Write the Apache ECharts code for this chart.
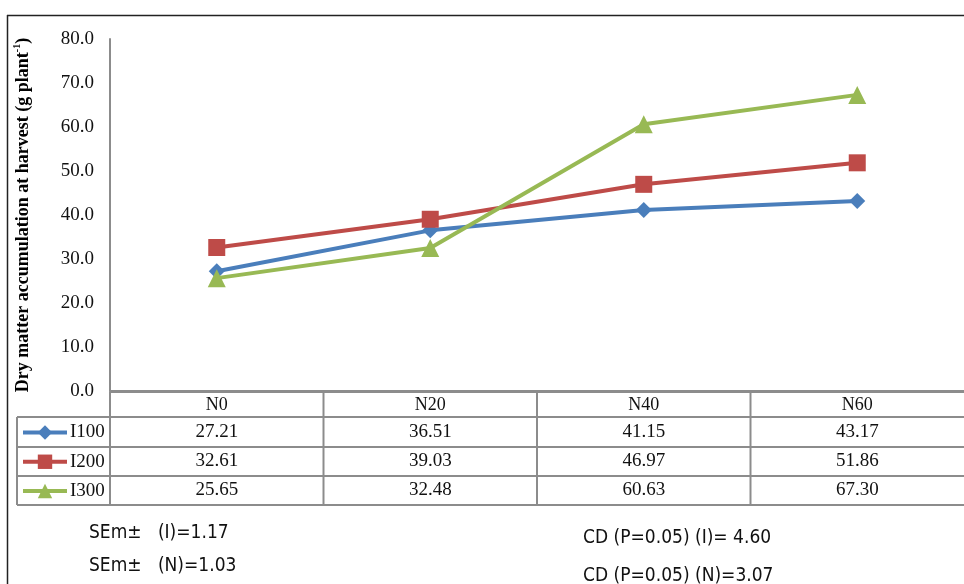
<!DOCTYPE html>
<html>
<head>
<meta charset="utf-8">
<script src="https://cdn.jsdelivr.net/npm/echarts@6/dist/echarts.min.js"></script>
<style>
  html, body { margin: 0; padding: 0; background: #fff; }
  #chart { width: 964px; height: 584px; }
</style>
</head>
<body>
<div id="chart"></div>
<script>
// Nitrogen levels (categories) and irrigation treatments (series)
const categories = ['N0', 'N20', 'N40', 'N60'];
const seriesNames = ['I100', 'I200', 'I300'];
const i100 = [27.21, 36.51, 41.15, 43.17];
const i200 = [32.61, 39.03, 46.97, 51.86];
const i300 = [25.65, 32.48, 60.63, 67.30];
const yTicks = { min: 0, max: 80, interval: 10 };
const statsLeft = ['SEm\u00B1   (I)=1.17', 'SEm\u00B1   (N)=1.03'];
const statsRight = ['CD (P=0.05) (I)= 4.60', 'CD (P=0.05) (N)=3.07'];

const seriesValues = [i100, i200, i300];
const colors = ['#4A7EBB', '#BE4B48', '#98B954'];
const symbols = ['diamond', 'rect', 'triangle'];
const symbolSizes = [16, 17, 18];
const serif = '"Liberation Serif", "Times New Roman", serif';
const narrow = '"Liberation Sans Narrow", "DejaVu Sans Condensed", sans-serif';
const gridColor = '#8C8C8C';

const chart = echarts.init(document.getElementById('chart'));

chart.setOption({
  animation: false,
  backgroundColor: '#fff',
  grid: { left: 110, top: 39, width: 860, height: 352, containLabel: false },
  xAxis: {
    type: 'category',
    data: categories,
    boundaryGap: true,
    axisLine: { show: true, lineStyle: { color: gridColor, width: 2 } },
    axisTick: { show: false },
    axisLabel: { fontFamily: serif, fontSize: 18, color: '#111', margin: 5 },
    splitLine: { show: false }
  },
  yAxis: {
    type: 'value',
    min: yTicks.min,
    max: yTicks.max,
    interval: yTicks.interval,
    name: '{t|Dry matter accumulation at harvest (g plant}{s|-1}{t|)}',
    nameLocation: 'middle',
    nameRotate: 90,
    nameGap: 76,
    nameTextStyle: {
      rich: {
        t: { fontFamily: serif, fontSize: 18, fontWeight: 'bold', color: '#000', lineHeight: 22 },
        s: { fontFamily: serif, fontSize: 10, fontWeight: 'bold', color: '#000', lineHeight: 22, verticalAlign: 'top', padding: [0, 0, 8, 0] }
      }
    },
    axisLine: { show: true, lineStyle: { color: gridColor, width: 2 } },
    axisTick: { show: false },
    splitLine: { show: false },
    axisLabel: {
      fontFamily: serif, fontSize: 19, color: '#111', margin: 16,
      formatter: v => v.toFixed(1)
    }
  },
  legend: {
    orient: 'vertical',
    left: 16,
    top: 418,
    itemWidth: 44,
    itemHeight: 18,
    itemGap: 10.25,
    data: seriesNames,
    lineStyle: { width: 4 },
    textStyle: { fontFamily: serif, fontSize: 19, color: '#111', padding: [0, 0, 0, -2] }
  },
  series: seriesNames.map((name, i) => ({
    name: name,
    type: 'line',
    data: seriesValues[i],
    symbol: symbols[i],
    symbolSize: symbolSizes[i],
    showAllSymbol: true,
    lineStyle: { color: colors[i], width: 4 },
    itemStyle: { color: colors[i] },
    z: 3 + i
  }))
});

// Data table beneath the plot, aligned to the category axis
function drawTable() {
  const xs = categories.map(c => chart.convertToPixel({ xAxisIndex: 0 }, c));
  const band = xs[1] - xs[0];
  const bounds = [xs[0] - band / 2].concat(xs.map(x => x + band / 2));
  const tableLeft = 17;
  const rowLines = [392, 417, 447, 476, 505];
  const rowCenters = [432, 461.5, 490.5];
  const right = 964;
  const els = [];
  const line = (x1, y1, x2, y2, color, w) => ({
    type: 'line', silent: true,
    shape: { x1, y1, x2, y2 },
    style: { stroke: color, lineWidth: w }
  });
  // horizontal rules
  els.push(line(bounds[0], rowLines[0], right, rowLines[0], gridColor, 2));
  for (let k = 1; k < rowLines.length; k++) {
    els.push(line(tableLeft, rowLines[k], right, rowLines[k], gridColor, 2));
  }
  // vertical rules
  els.push(line(tableLeft, rowLines[1], tableLeft, rowLines[4], gridColor, 2));
  els.push(line(bounds[0], rowLines[0], bounds[0], rowLines[4], gridColor, 2));
  for (let k = 1; k < bounds.length - 1; k++) {
    els.push(line(bounds[k], rowLines[0], bounds[k], rowLines[4], gridColor, 2));
  }
  // cell values
  seriesValues.forEach((vals, r) => {
    vals.forEach((v, c) => {
      els.push({
        type: 'text', silent: true,
        x: xs[c], y: rowCenters[r],
        style: {
          text: v.toFixed(2), fontFamily: serif, fontSize: 19, fill: '#111',
          align: 'center', verticalAlign: 'middle'
        }
      });
    });
  });
  // statistics notes
  statsLeft.forEach((t, k) => {
    els.push({
      type: 'text', silent: true, x: 89, y: [533, 566][k],
      style: { text: t, fontFamily: narrow, fontSize: 19, fill: '#111', align: 'left', verticalAlign: 'middle' }
    });
  });
  statsRight.forEach((t, k) => {
    els.push({
      type: 'text', silent: true, x: 583, y: [538, 576][k],
      style: { text: t, fontFamily: narrow, fontSize: 19, fill: '#111', align: 'left', verticalAlign: 'middle' }
    });
  });
  // outer frame
  els.push(line(7, 15.5, 964, 15.5, '#222', 1.5));
  els.push(line(7.5, 15, 7.5, 584, '#222', 1.5));
  chart.setOption({ graphic: { elements: els } });
}
drawTable();
</script>
</body>
</html>
